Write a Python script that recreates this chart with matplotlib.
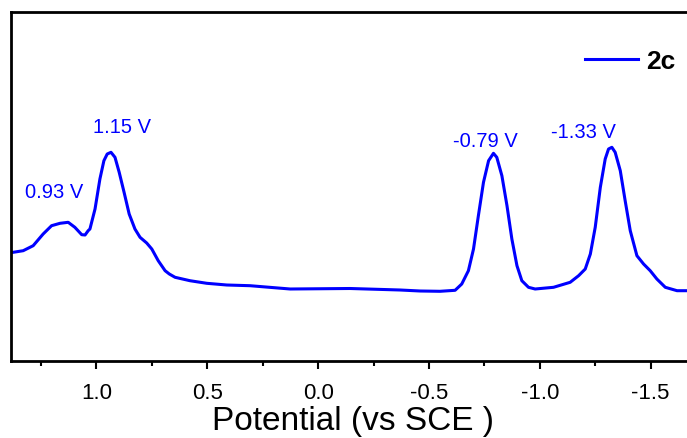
import numpy as np
import matplotlib
matplotlib.use("Agg")
import matplotlib.pyplot as plt
from matplotlib.ticker import MultipleLocator

plt.rcParams['font.family'] = ['Liberation Sans', 'DejaVu Sans']
plt.rcParams['axes.unicode_minus'] = False

# DPV trace of 2c, potential in V vs SCE, current in arbitrary units
potential = [1.375, 1.330, 1.285, 1.240, 1.202, 1.164, 1.127, 1.097, 1.066, 1.051,
             1.037, 1.029, 1.006, 0.984, 0.966, 0.951, 0.934, 0.916, 0.897, 0.875,
             0.852, 0.826, 0.803, 0.773, 0.750, 0.721, 0.690, 0.671, 0.645, 0.578,
             0.502, 0.412, 0.307, 0.126, -0.144, -0.370, -0.460, -0.550, -0.618,
             -0.648, -0.678, -0.701, -0.723, -0.746, -0.769, -0.791, -0.806, -0.829,
             -0.852, -0.874, -0.897, -0.919, -0.949, -0.979, -1.062, -1.137, -1.175,
             -1.205, -1.228, -1.250, -1.273, -1.295, -1.310, -1.325, -1.340, -1.363,
             -1.385, -1.408, -1.438, -1.468, -1.498, -1.528, -1.566, -1.619, -1.664,
             -1.700]
current = [1.087, 1.103, 1.153, 1.270, 1.353, 1.377, 1.387, 1.337, 1.263, 1.260,
           1.303, 1.320, 1.520, 1.820, 2.003, 2.070, 2.087, 2.037, 1.887, 1.687,
           1.470, 1.320, 1.237, 1.180, 1.120, 1.003, 0.903, 0.870, 0.837, 0.803,
           0.777, 0.760, 0.753, 0.720, 0.725, 0.710, 0.700, 0.697, 0.707,
           0.770, 0.903, 1.120, 1.453, 1.787, 2.003, 2.077, 2.037, 1.853,
           1.553, 1.220, 0.953, 0.803, 0.737, 0.720, 0.737, 0.787, 0.853,
           0.920, 1.070, 1.337, 1.737, 2.020, 2.120, 2.137, 2.087, 1.903,
           1.603, 1.303, 1.053, 0.970, 0.903, 0.820, 0.737, 0.703, 0.703,
           0.700]

peak_labels = ["0.93 V", "1.15 V", "-0.79 V", "-1.33 V"]
label_x = [1.190, 0.886, -0.753, -1.198]
label_y = [1.70, 2.35, 2.21, 2.30]

fig = plt.figure(figsize=(6.87, 4.39), dpi=100)
ax = fig.add_axes([11 / 687, 77 / 439, 684 / 687, 349 / 439])

ax.plot(potential, current, color='#0000ff', lw=2.2, label='2c')

for txt, x, y in zip(peak_labels, label_x, label_y):
    ax.text(x, y, txt, color='#0000ff', fontsize=14.5, ha='center', va='center')

ax.set_xlim(1.385, -1.70)
ax.set_ylim(0, 3.49)
ax.xaxis.set_major_locator(MultipleLocator(0.5))
ax.xaxis.set_minor_locator(MultipleLocator(0.25))
ax.set_yticks([])
ax.tick_params(axis='x', which='major', direction='out', length=6, width=1.5,
               labelsize=16, pad=9)
ax.tick_params(axis='x', which='minor', direction='out', length=3.5, width=1.5)
for s in ax.spines.values():
    s.set_linewidth(2.0)
ax.spines['right'].set_visible(False)

# x label sits on its own baseline below the tick labels
ax.set_xlabel('Potential (vs SCE )', fontsize=24)
ax.xaxis.set_label_coords(0.5, -(430 - 362) / 349)
ax.xaxis.label.set_va('baseline')

leg = ax.legend(loc='center left', bbox_to_anchor=(585 / 687, 1 - 62 / 439),
                bbox_transform=fig.transFigure, frameon=False,
                prop={'weight': 'bold', 'size': 19}, handlelength=2.0,
                handletextpad=0.3, borderpad=0, borderaxespad=0)

fig.savefig('out.png', dpi=100)
